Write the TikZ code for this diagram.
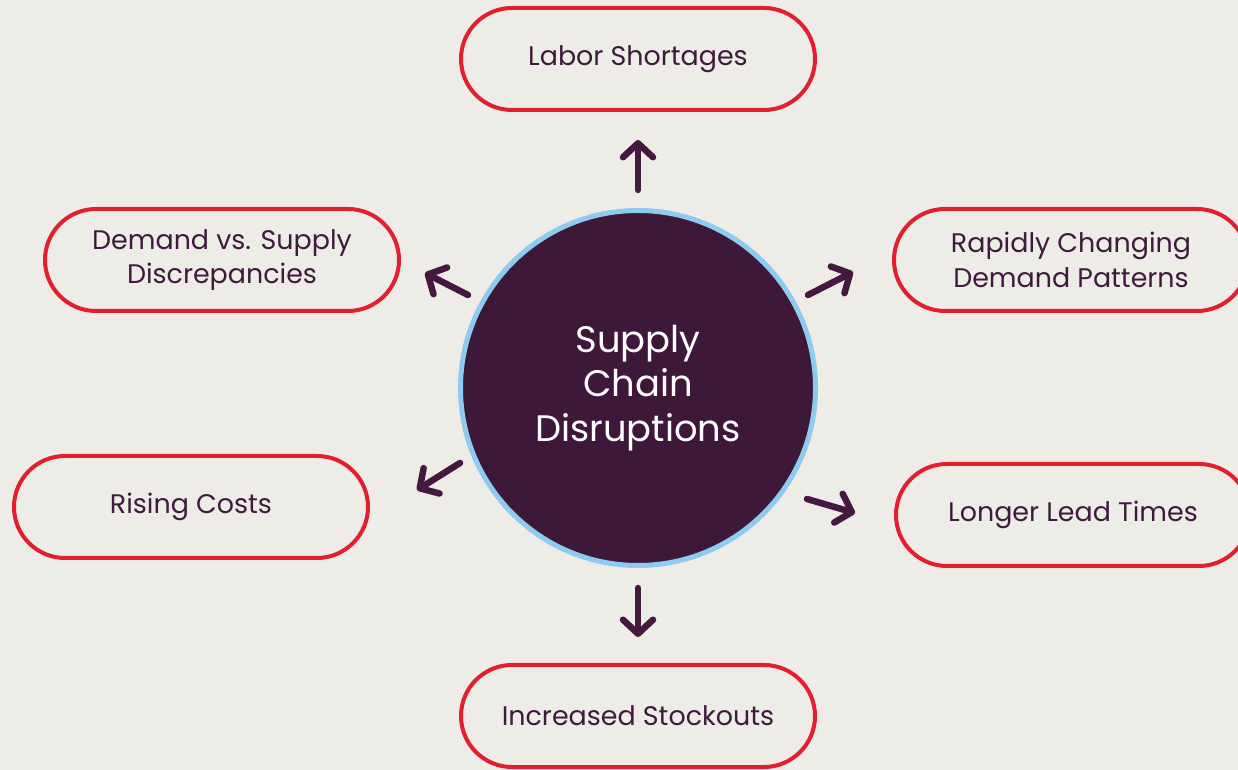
\documentclass[tikz,border=0pt]{standalone}
\usepackage{fontspec}
\setmainfont{Poppins}
\usepackage{tikz}
\usetikzlibrary{positioning, arrows.meta, shapes.misc, calc}
\definecolor{bgcol}{HTML}{EEECE7}
\definecolor{hubcol}{HTML}{3E1839}
\definecolor{rimcol}{HTML}{8DCBF0}
\definecolor{boxred}{HTML}{E21F2D}
\definecolor{txtcol}{HTML}{3F1A3C}
\definecolor{arrcol}{HTML}{45193F}

\tikzset{
	pill/.style={draw=boxred, line width=4bp, rounded rectangle, minimum width=354bp, minimum height=102bp, inner sep=0pt, align=center, text=txtcol, font=\fontsize{27}{35}\selectfont},
	hubnode/.style={circle, draw=rimcol, fill=hubcol, line width=5bp, minimum size=355bp, inner sep=0pt, align=center, text=white, font=\fontsize{37}{45}\selectfont},
	arr/.style={draw=arrcol, line width=6.5bp, line cap=round, -{Straight Barb[length=14bp, width=30bp, round]}}
}

\begin{document}
\begin{tikzpicture}[x=1bp, y=1bp]
		\fill[bgcol] (0,0) rectangle (1238,770);
		\useasboundingbox (0,0) rectangle (1238,770);
		
		\node[hubnode] (hub) at (638,382) {Supply\\Chain\\Disruptions};
		
		\node[pill, above=96bp of hub] (labor) {Labor Shortages};
		\node[pill, below=95bp of hub] (stock) {Increased Stockouts};
		\node[pill] (demand) at (222,510) {Demand vs. Supply\\Discrepancies};
		\node[pill] (rapid) at (1071,510) {Rapidly Changing\\Demand Patterns};
		\node[pill] (rising) at (191,263) {Rising Costs};
		\node[pill] (longer) at (1073,255) {Longer Lead Times};
		
		% arrow ends
		\coordinate (t-labor) at (638,580);
		\coordinate (h-labor) at (638,630);
		\coordinate (t-demand) at (468,475);
		\coordinate (h-demand) at (425,497);
		\coordinate (t-rapid) at (808,475);
		\coordinate (h-rapid) at (853,498);
		\coordinate (t-rising) at (460,307);
		\coordinate (h-rising) at (417,280);
		\coordinate (t-longer) at (807,271);
		\coordinate (h-longer) at (855,257);
		\coordinate (t-stock) at (638,182);
		\coordinate (h-stock) at (638,133);
		
		\foreach \n in {labor, demand, rapid, rising, longer, stock}
			\draw[arr] (t-\n) -- (h-\n);
	\end{tikzpicture}
\end{document}
